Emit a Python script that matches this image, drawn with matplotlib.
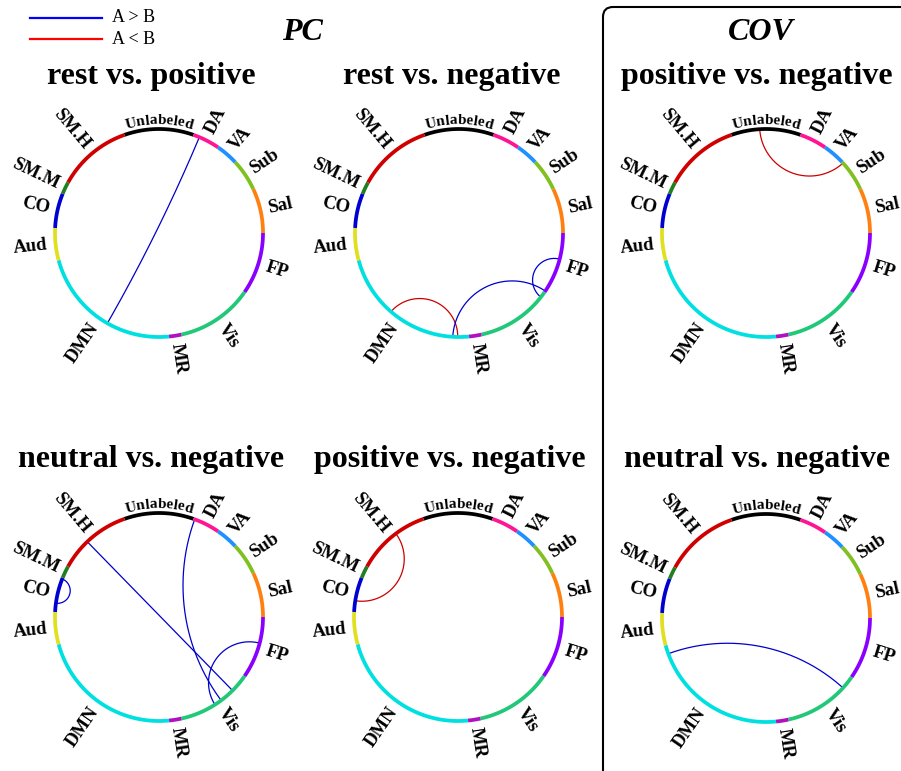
import numpy as np
import matplotlib
matplotlib.use('Agg')
import matplotlib.pyplot as plt
from matplotlib.patches import FancyBboxPatch
from matplotlib.textpath import TextToPath
from matplotlib.font_manager import FontProperties

# networks around the ring (clockwise from top) and node counts
networks = ['Unlabeled', 'DA', 'VA', 'Sub', 'Sal', 'FP', 'Vis', 'MR', 'DMN', 'Aud', 'CO', 'SM.M', 'SM.H']
node_counts = [28, 11, 9, 13, 18, 25, 31, 5, 58, 13, 14, 5, 30]
net_colors = ['#000000', '#FF1493', '#1E90FF', '#80C020', '#FF8010', '#8A00FF', '#20C878',
              '#B010C0', '#00E0E0', '#E0E020', '#0000D0', '#208020', '#D00000']

titles = ['rest vs. positive', 'rest vs. negative', 'positive vs. negative',
          'neutral vs. negative', 'positive vs. negative', 'neutral vs. negative']

# links: (node a, node b, sign) sign 1 -> A > B, -1 -> A < B
pc_rest_pos = [(30, 165, 1)]
pc_rest_neg = [(173, 144, -1), (146, 103, 1), (89, 106, 1)]
cov_pos_neg = [(11, 48, -1)]
pc_neu_neg = [(224, 214, 1), (242, 111, 1), (28, 117, 1), (89, 120, 1)]
pc_pos_neg = [(247, 215, -1)]
cov_neu_neg = [(194, 109, 1)]
panel_links = [pc_rest_pos, pc_rest_neg, cov_pos_neg, pc_neu_neg, pc_pos_neg, cov_neu_neg]

plt.rcParams['font.family'] = ['Liberation Serif', 'DejaVu Serif']

W, H = 901, 771
fig = plt.figure(figsize=(W / 100, H / 100), dpi=100)
ax = fig.add_axes([0, 0, 1, 1])
ax.set_xlim(0, W)
ax.set_ylim(H, 0)
ax.axis('off')

N = sum(node_counts)
step = 360.0 / N
start = 90 + step * node_counts[0] / 2.0
bounds = np.concatenate([[0], np.cumsum(node_counts)])
R = 104
centers = [(159, 233), (459, 233), (766, 233), (159, 617), (458, 617), (766, 618)]
title_pos = [(151, 84), (452, 84), (757, 84), (151, 467), (450, 467), (757, 467)]

ttp = TextToPath()
fp_unl = FontProperties(family='Liberation Serif', weight='bold', size=11)


def node_angle(i):
    return np.radians(start - (i + 0.5) * step)


def geodesic(a, b):
    t1, t2 = node_angle(a), node_angle(b)
    p1 = np.array([np.cos(t1), np.sin(t1)])
    p2 = np.array([np.cos(t2), np.sin(t2)])
    d = p1 @ p2
    if d < -0.9995:
        return np.linspace(p1, p2, 50)
    c = (p1 + p2) / (1 + d)
    rr = np.linalg.norm(p1 - c)
    f1 = np.arctan2(*(p1 - c)[::-1])
    f2 = np.arctan2(*(p2 - c)[::-1])
    df = (f2 - f1 + np.pi) % (2 * np.pi) - np.pi
    f = f1 + np.linspace(0, 1, 200) * df
    return np.column_stack([c[0] + rr * np.cos(f), c[1] + rr * np.sin(f)])


def curved_text(cx, cy, rad, s):
    ws = [ttp.get_text_width_height_descent(ch, fp_unl, ismath=False)[0] * 100 / 72 for ch in s]
    total = sum(ws)
    pos = -total / 2.0
    for ch, w in zip(s, ws):
        ang = np.pi / 2 - (pos + w / 2.0) / rad
        ax.text(cx + rad * np.cos(ang), cy - rad * np.sin(ang), ch, fontproperties=fp_unl,
                rotation=np.degrees(ang) - 90, rotation_mode='anchor', ha='center', va='baseline')
        pos += w


for k, (cx, cy) in enumerate(centers):
    # ring
    for n in range(len(networks)):
        a0 = start - bounds[n] * step
        a1 = start - bounds[n + 1] * step
        t = np.radians(np.linspace(a0, a1, 60))
        ax.plot(cx + R * np.cos(t), cy - R * np.sin(t), color=net_colors[n], lw=2.7,
                solid_capstyle='butt', zorder=3)
        mid = (a0 + a1) / 2.0
        tm = np.radians(mid)
        if networks[n] == 'Unlabeled':
            curved_text(cx, cy, R + 5, networks[n])
            continue
        rl = R + 8
        x = cx + rl * np.cos(tm)
        y = cy - rl * np.sin(tm)
        m = (mid + 180) % 360 - 180
        if -90 <= m <= 90:
            rot, ha = m, 'left'
        else:
            rot, ha = m - 180 if m > 0 else m + 180, 'right'
        ax.text(x, y, networks[n], fontsize=13.5, fontweight='bold', rotation=rot,
                rotation_mode='anchor', ha=ha, va='center')
    # links
    for a, b, s in panel_links[k]:
        pts = geodesic(a, b)
        ax.plot(cx + R * pts[:, 0], cy - R * pts[:, 1], color='#0000CC' if s > 0 else '#CC0000',
                lw=0.9, zorder=2)
    tx, ty = title_pos[k]
    ax.text(tx, ty, titles[k], fontsize=23, fontweight='bold', ha='center', va='baseline')

ax.text(302, 33, 'PC', fontsize=23, fontweight='bold', style='italic', ha='center', va='center')
ax.text(761, 33, 'COV', fontsize=23, fontweight='bold', style='italic', ha='center', va='center')

# legend
ax.plot([30, 102], [18, 18], color='#0000FF', lw=1.6)
ax.plot([30, 102], [39, 39], color='#FF0000', lw=1.6)
ax.text(112, 18, 'A > B', fontsize=13, ha='left', va='center')
ax.text(112, 39, 'A < B', fontsize=13, ha='left', va='center')

box = FancyBboxPatch((603, 7), 330, 800, boxstyle='round,pad=0,rounding_size=10',
                     fill=False, ec='black', lw=1.5, zorder=5)
ax.add_patch(box)

fig.savefig('out.png', dpi=100)
